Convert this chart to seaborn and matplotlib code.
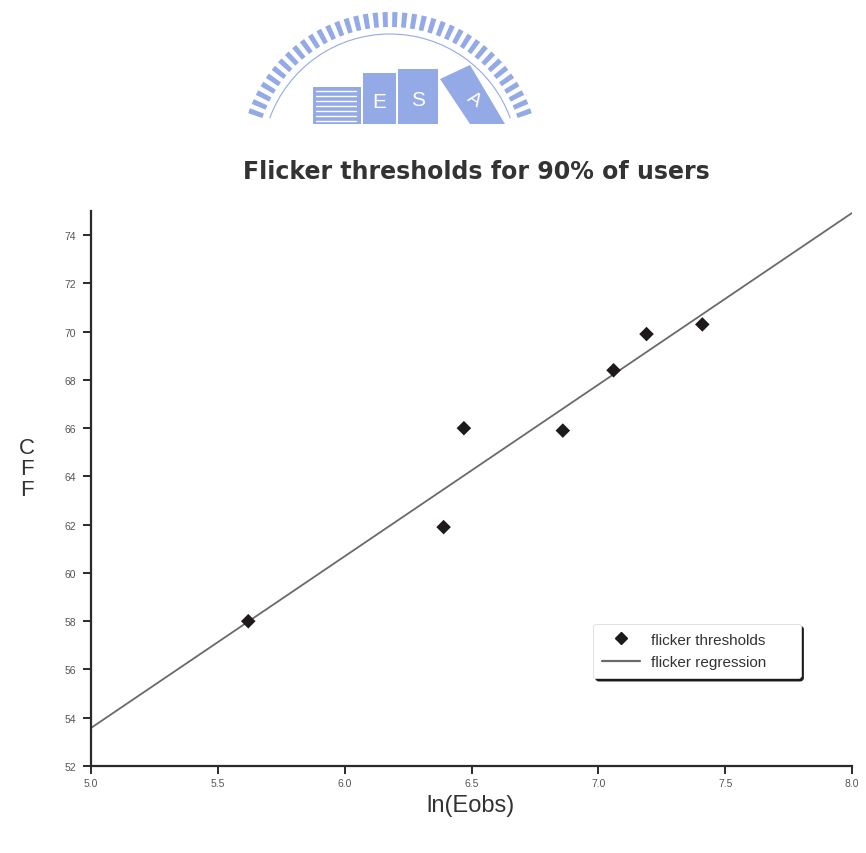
import numpy as np
import pandas as pd
import seaborn as sns
import matplotlib
matplotlib.use("Agg")
import matplotlib.pyplot as plt
from matplotlib.patches import Rectangle, Polygon, Arc
from matplotlib.lines import Line2D

# Flicker thresholds (CFF) against log observer illuminance
ln_eobs = [5.62, 6.39, 6.47, 6.86, 7.06, 7.19, 7.41]
cff = [58.0, 61.9, 66.0, 65.9, 68.4, 69.9, 70.3]
x_ticks = [5.0, 5.5, 6.0, 6.5, 7.0, 7.5, 8.0]
y_ticks = list(range(52, 76, 2))

df = pd.DataFrame({"ln(Eobs)": ln_eobs, "CFF": cff})

sns.set_style("ticks")
plt.rcParams["font.family"] = ["Liberation Sans", "DejaVu Sans"]

W, H = 866, 854
fig = plt.figure(figsize=(W / 100, H / 100), dpi=100)

# Emblem at the top of the page, drawn in pixel coordinates
deco = fig.add_axes([0, 0, 1, 1], zorder=0)
deco.set_xlim(0, W)
deco.set_ylim(H, 0)
deco.axis("off")
blue = "#93aae6"
cx, cy, r_in, r_out = 390, 163, 128, 150
for ang in np.linspace(160, 20, 38):
    a = np.deg2rad(ang)
    w = np.deg2rad(1.0)
    pts = [(cx + rr * np.cos(a + s * w), cy - rr * np.sin(a + s * w))
           for rr, s in [(r_in + 7, -1), (r_out, -1), (r_out, 1), (r_in + 7, 1)]]
    deco.add_patch(Polygon(pts, closed=True, color=blue, lw=0))
deco.add_patch(Arc((cx, cy), 2 * r_in, 2 * r_in, theta1=200, theta2=340,
                   color=blue, lw=0.8))
# buildings
deco.add_patch(Rectangle((313, 88), 48, 37, color=blue, lw=0))
for yy in range(92, 124, 5):
    deco.plot([316, 356], [yy, yy], color="white", lw=1.0)
deco.add_patch(Rectangle((363, 74), 33, 51, color=blue, lw=0))
deco.add_patch(Rectangle((398, 70), 40, 55, color=blue, lw=0))
deco.add_patch(Polygon([(440, 80), (470, 66), (505, 125), (470, 125)],
                       closed=True, color=blue, lw=0))
deco.text(379, 103, "E", color="white", fontsize=15, ha="center", va="center")
deco.text(418, 101, "S", color="white", fontsize=15, ha="center", va="center")
deco.text(474, 100, "A", color="white", fontsize=14, ha="center", va="center",
          rotation=-35)
deco.add_patch(Rectangle((0, 125), W, H - 125, color="white", lw=0, zorder=5))

# Main axes
left, right = 91 / W, 852 / W
bottom, top = 1 - 767 / H, 1 - 212 / H
ax = fig.add_axes([left, bottom, right - left, top - bottom], zorder=2)
ax.patch.set_alpha(0)
ax.set_xlim(5.0, 8.0)
ax.set_ylim(52, 75)

sns.regplot(data=df, x="ln(Eobs)", y="CFF", ax=ax, scatter=False, ci=None,
            truncate=False, line_kws={"color": "#6a6a6a", "lw": 1.3})
sns.scatterplot(data=df, x="ln(Eobs)", y="CFF", ax=ax, marker="D", s=55,
                color="#1e1a1a", edgecolor="none", zorder=4)

ax.set_xticks(x_ticks)
ax.set_xticklabels([f"{v:.1f}" for v in x_ticks])
ax.set_yticks(y_ticks)
ax.tick_params(axis="both", direction="out", length=6, width=1.4,
               color="#2a2a2a", labelsize=7.5, labelcolor="#555555")
ax.tick_params(axis="x", pad=3)
ax.tick_params(axis="y", pad=5)
for side in ("top", "right"):
    ax.spines[side].set_visible(False)
for side in ("left", "bottom"):
    ax.spines[side].set_linewidth(1.6)
    ax.spines[side].set_color("#2a2a2a")
ax.set_xlabel("")
ax.set_ylabel("")

fig.text(476 / W, 1 - 172 / H, "Flicker thresholds for 90% of users",
         ha="center", va="center", fontsize=17, fontweight="bold",
         color="#333333", family=["DejaVu Sans"])
fig.text(470 / W, 1 - 806 / H, "ln(Eobs)", ha="center", va="center",
         fontsize=17, color="#333333")
fig.text(27 / W, 1 - 470 / H, "C\nF\nF", ha="center", va="center",
         fontsize=16, color="#333333", linespacing=1.0)

handles = [
    Line2D([], [], marker="D", color="#1e1a1a", ls="none", markersize=6),
    Line2D([], [], color="#6a6a6a", lw=1.6),
]
leg = ax.legend(handles, ["flicker thresholds", "flicker regression"],
                loc="upper left", bbox_to_anchor=(0.6495, 0.2705, 0.293, 0.0),
                mode="expand", fontsize=11, frameon=True, fancybox=True,
                handlelength=2.5, borderpad=0.6, labelspacing=0.55,
                handletextpad=0.7,
                shadow={"color": "#1a1a1a", "alpha": 1.0})
leg.get_frame().set_edgecolor("#dddddd")
leg.get_frame().set_linewidth(0.6)
for t in leg.get_texts():
    t.set_color("#333333")

fig.savefig("out.png", dpi=100)
